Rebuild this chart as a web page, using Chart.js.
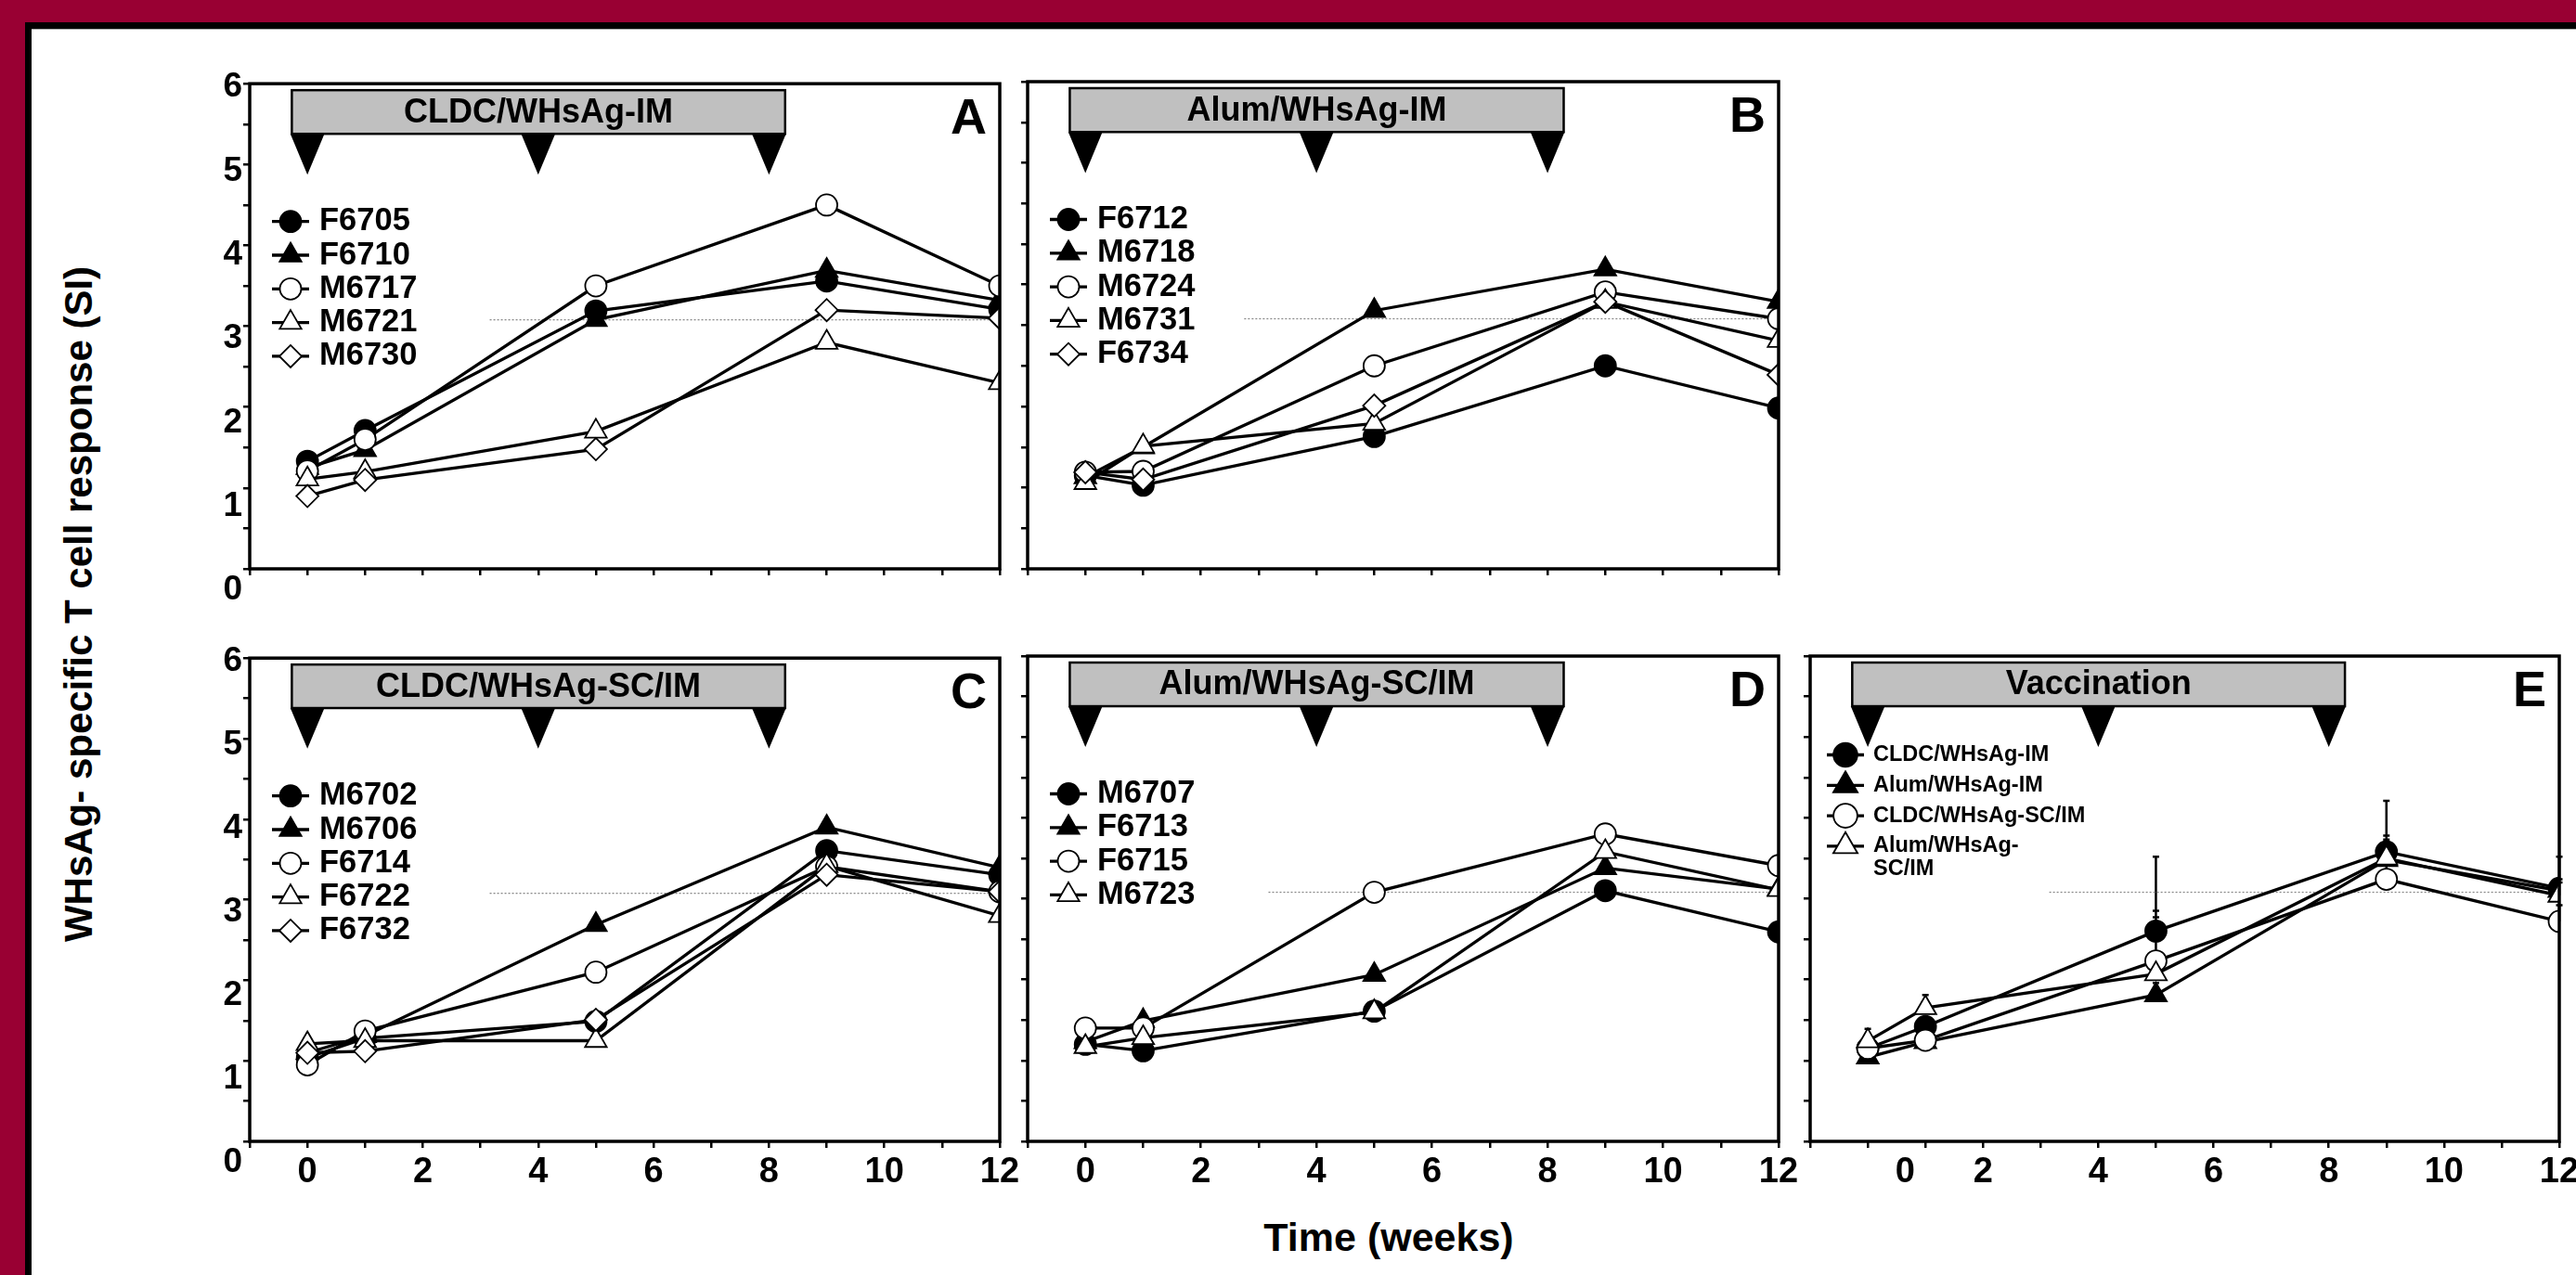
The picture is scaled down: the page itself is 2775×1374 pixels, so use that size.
<!DOCTYPE html>
<html>
<head>
<meta charset="utf-8">
<script src="https://cdn.jsdelivr.net/npm/chart.js@4.4.1/dist/chart.umd.min.js"></script>
<style>
	html, body { margin: 0; padding: 0; width: 2775px; height: 1374px; overflow: hidden; background: #990033; }
	#sheet { position: absolute; left: 27px; top: 24px; right: 0; bottom: 0; background: #fff; border-left: 7px solid #000; border-top: 7px solid #000; }
	#sheet::before { content: ''; position: absolute; left: 0; right: 0; top: 0; height: 1px; background: #a8a8a8; }
	canvas { position: absolute; }
	.axis-title { position: absolute; font-family: "Liberation Sans", Arial, sans-serif; font-weight: bold; color: #000; white-space: nowrap; }
	#ytitle { left: 85px; top: 651px; font-size: 42px; line-height: 42px; transform: translate(-50%, -50%) rotate(-90deg); }
	#xtitle { left: 1496px; top: 1333px; font-size: 43px; line-height: 43px; transform: translate(-50%, -50%); }
</style>
</head>
<body>
<div id="sheet"></div>
<div class="axis-title" id="ytitle">WHsAg- specific T cell response (SI)</div>
<div class="axis-title" id="xtitle">Time (weeks)</div>
<script>
// time points (weeks) and vaccination weeks
const weeks = [0, 1, 5, 9, 12]
const vaccinationWeeks = [0, 4, 8]
const yTickValues = [0, 1, 2, 3, 4, 5, 6]
const xTickValues = [0, 2, 4, 6, 8, 10, 12]
const xTickPositionsE = [0.65, 2, 4, 6, 8, 10, 12]
const cutoffSI = 3.08

// A: CLDC/WHsAg-IM
const animalsA = ['F6705', 'F6710', 'M6717', 'M6721', 'M6730']
const valuesA = [
	[1.33, 1.71, 3.19, 3.56, 3.21],
	[1.25, 1.47, 3.08, 3.69, 3.32],
	[1.21, 1.60, 3.50, 4.50, 3.50],
	[1.11, 1.20, 1.70, 2.80, 2.30],
	[0.90, 1.10, 1.48, 3.20, 3.10],
]

// B: Alum/WHsAg-IM
const animalsB = ['F6712', 'M6718', 'M6724', 'M6731', 'F6734']
const valuesB = [
	[1.15, 1.03, 1.63, 2.50, 1.98],
	[1.13, 1.50, 3.18, 3.69, 3.29],
	[1.19, 1.20, 2.50, 3.41, 3.08],
	[1.06, 1.51, 1.79, 3.29, 2.81],
	[1.19, 1.10, 2.01, 3.29, 2.39],
]

// C: CLDC/WHsAg-SC/IM
const animalsC = ['M6702', 'M6706', 'F6714', 'F6722', 'F6732']
const valuesC = [
	[1.04, 1.28, 1.49, 3.61, 3.31],
	[1.10, 1.31, 2.69, 3.90, 3.40],
	[0.95, 1.37, 2.10, 3.41, 3.10],
	[1.21, 1.25, 1.25, 3.42, 2.80],
	[1.10, 1.12, 1.51, 3.31, 3.10],
]

// D: Alum/WHsAg-SC/IM
const animalsD = ['M6707', 'F6713', 'F6715', 'M6723']
const valuesD = [
	[1.20, 1.12, 1.61, 3.10, 2.59],
	[1.23, 1.49, 2.06, 3.38, 3.12],
	[1.40, 1.40, 3.08, 3.80, 3.41],
	[1.17, 1.28, 1.60, 3.58, 3.11],
]

// E: group means with upper error
const groupsE = ['CLDC/WHsAg-IM', 'Alum/WHsAg-IM', 'CLDC/WHsAg-SC/IM', ['Alum/WHsAg-', 'SC/IM']]
const meansE = [
	[1.15, 1.42, 2.60, 3.58, 3.13],
	[1.04, 1.23, 1.81, 3.48, 3.10],
	[1.15, 1.25, 2.23, 3.24, 2.72],
	[1.24, 1.65, 2.07, 3.50, 3.04],
]
const errorsE = [
	[0.05, 0.08, 0.92, 0.63, 0.39],
	[0.05, 0.05, 0.15, 0.30, 0.10],
	[0.05, 0.08, 0.62, 0.54, 0.20],
	[0.15, 0.16, 0.70, 0.23, 0.20],
]

const FONT = '"Liberation Sans", Arial, sans-serif'
const MARKERS = {
	filledCircle: { shape: 'circle', fill: '#000', radius: 11.5 },
	filledTriangle: { shape: 'triangle', fill: '#000', radius: 13.5 },
	openCircle: { shape: 'circle', fill: '#fff', radius: 11.5 },
	openTriangle: { shape: 'triangle', fill: '#fff', radius: 13.5 },
	openDiamond: { shape: 'rectRot', fill: '#fff', radius: 12 },
}
const markerOrder = ['filledCircle', 'filledTriangle', 'openCircle', 'openTriangle', 'openDiamond']

// banner / arrows geometry in data units
const banner = { from: -0.27, to: 8.28, bottom: 5.38, top: 5.92, tip: 4.875, halfWidth: 0.295 }
const legendBig = { x0: 24, x1: 64, text: 75, y: 148.5, step: 36.3, font: 34.5, scale: 1 }
const legendSmall = { x0: 18, x1: 58, text: 68, y: 106.5, step: 32.8, font: 23.5, line2: 25, scale: 1.12 }

const panels = [
	{ letter: 'A', title: 'CLDC/WHsAg-IM', labels: animalsA, series: valuesA, markers: markerOrder,
		area: { l: 269, t: 88, r: 1077, b: 613 }, yLabels: true, xLabels: null, cutoffFrom: 3.16, legend: legendBig },
	{ letter: 'B', title: 'Alum/WHsAg-IM', labels: animalsB, series: valuesB, markers: markerOrder,
		area: { l: 1107, t: 88, r: 1916, b: 613 }, yLabels: false, xLabels: null, cutoffFrom: 2.75, legend: legendBig },
	{ letter: 'C', title: 'CLDC/WHsAg-SC/IM', labels: animalsC, series: valuesC, markers: markerOrder,
		area: { l: 269, t: 707, r: 1077, b: 1230 }, yLabels: true, xLabels: [xTickValues, xTickValues], cutoffFrom: 3.16, legend: legendBig },
	{ letter: 'D', title: 'Alum/WHsAg-SC/IM', labels: animalsD, series: valuesD, markers: markerOrder,
		area: { l: 1107, t: 707, r: 1916, b: 1230 }, yLabels: false, xLabels: [xTickValues, xTickValues], cutoffFrom: 3.17, legend: legendBig },
	{ letter: 'E', title: 'Vaccination', labels: groupsE, series: meansE, errors: errorsE, markers: markerOrder.slice(0, 4),
		area: { l: 1950, t: 707, r: 2757, b: 1230 }, yLabels: false, xLabels: [xTickPositionsE, xTickValues], cutoffFrom: 3.15, legend: legendSmall },
]

function drawMarker(ctx, marker, x, y, r) {
	ctx.beginPath()
	if (marker.shape === 'circle') {
		ctx.arc(x, y, r, 0, Math.PI * 2)
	} else if (marker.shape === 'triangle') {
		ctx.moveTo(x, y - r)
		ctx.lineTo(x + r * Math.sin(Math.PI * 2 / 3), y + r / 2)
		ctx.lineTo(x - r * Math.sin(Math.PI * 2 / 3), y + r / 2)
		ctx.closePath()
	} else {
		ctx.moveTo(x - r, y)
		ctx.lineTo(x, y - r)
		ctx.lineTo(x + r, y)
		ctx.lineTo(x, y + r)
		ctx.closePath()
	}
	ctx.fillStyle = marker.fill
	ctx.fill()
	ctx.lineWidth = 1.8
	ctx.strokeStyle = '#000'
	ctx.stroke()
}

class PanelChart {
	constructor(panel) {
		this.panel = panel
		const padL = 80, padT = 20, padR = 30, padB = 70
		const a = panel.area
		const w = a.r - a.l + padL + padR
		const h = a.b - a.t + padT + padB
		const canvas = document.createElement('canvas')
		canvas.width = w
		canvas.height = h
		canvas.style.left = (a.l - padL) + 'px'
		canvas.style.top = (a.t - padT) + 'px'
		canvas.style.width = w + 'px'
		canvas.style.height = h + 'px'
		document.body.appendChild(canvas)

		// label axis is slightly stretched compared with the data axis (as in the original)
		const plotH = a.b - a.t
		const labelUnit = plotH / 6 + 3.2
		const ylMax = 6 + 4 / labelUnit
		const ylMin = ylMax - plotH / labelUnit
		const xPos = panel.xLabels ? panel.xLabels[0] : xTickValues
		const xText = panel.xLabels ? panel.xLabels[1] : xTickValues

		new Chart(canvas.getContext('2d'), {
			type: 'line',
			data: { datasets: this.getDatasets() },
			options: {
				responsive: false,
				animation: false,
				devicePixelRatio: 1,
				events: [],
				layout: { autoPadding: false, padding: { left: 0, top: padT, right: padR, bottom: 0 } },
				plugins: { legend: { display: false }, tooltip: { enabled: false } },
				scales: {
					x: {
						type: 'linear', position: 'bottom', min: -1, max: 12,
						ticks: { display: false, stepSize: 1 },
						grid: { drawOnChartArea: false, tickLength: 7, color: '#000', lineWidth: 2.5 },
						border: { display: false },
						afterFit: (s) => { s.height = 8 },
					},
					xl: {
						type: 'linear', position: 'bottom', weight: 1, min: -1, max: 12,
						afterBuildTicks: (s) => { s.ticks = xPos.map((v) => ({ value: v })) },
						ticks: {
							display: !!panel.xLabels, autoSkip: false, maxRotation: 0, padding: 3, color: '#000',
							font: { family: FONT, size: 38, weight: 'bold' },
							callback: (v, i) => String(xText[i]),
						},
						grid: { display: false, drawTicks: false },
						border: { display: false },
						afterFit: (s) => { s.height = padB - 8 },
					},
					y: {
						type: 'linear', position: 'left', min: 0, max: 6,
						ticks: { display: false, stepSize: 0.5 },
						grid: { drawOnChartArea: false, tickLength: 7, color: '#000', lineWidth: 2.5 },
						border: { display: false },
						afterFit: (s) => { s.width = 8 },
					},
					yl: {
						type: 'linear', position: 'left', weight: 1, min: ylMin, max: ylMax,
						afterBuildTicks: (s) => { s.ticks = yTickValues.map((v) => ({ value: v })) },
						ticks: {
							display: panel.yLabels, autoSkip: false, padding: 0, color: '#000',
							font: { family: FONT, size: 37, weight: 'bold' },
							callback: (v) => String(v),
						},
						grid: { display: false, drawTicks: false },
						border: { display: false },
						afterFit: (s) => { s.width = padL - 8 },
					},
				},
			},
			plugins: [this.getDecorations()],
		})
	}

	getDatasets() {
		const p = this.panel
		const datasets = [{
			data: [{ x: p.cutoffFrom, y: cutoffSI }, { x: 12, y: cutoffSI }],
			borderColor: '#8a8a8a', borderWidth: 1.3, borderDash: [2, 2],
			pointRadius: 0, order: 100, clip: 0,
		}]
		p.series.forEach((values, i) => {
			const m = MARKERS[p.markers[i]]
			datasets.push({
				data: weeks.map((wk, j) => ({ x: wk, y: values[j] })),
				borderColor: '#000',
				borderWidth: 3.3,
				tension: 0,
				pointStyle: m.shape,
				pointRadius: m.radius,
				pointBackgroundColor: m.fill,
				pointBorderColor: '#000',
				pointBorderWidth: 1.8,
				order: p.series.length - i,
				clip: 0,
			})
		})
		return datasets
	}

	getDecorations() {
		const p = this.panel
		return {
			id: 'decorations',
			beforeDatasetsDraw(chart) {
				if (!p.errors) return
				const ctx = chart.ctx, xs = chart.scales.x, ys = chart.scales.y
				ctx.save()
				ctx.strokeStyle = '#000'
				ctx.lineWidth = 2.5
				ctx.beginPath()
				p.errors.forEach((errs, i) => {
					errs.forEach((e, j) => {
						const x = xs.getPixelForValue(weeks[j])
						const y0 = ys.getPixelForValue(p.series[i][j])
						const y1 = ys.getPixelForValue(p.series[i][j] + e)
						ctx.moveTo(x, y0)
						ctx.lineTo(x, y1)
						ctx.moveTo(x - 3.5, y1)
						ctx.lineTo(x + 3.5, y1)
					})
				})
				ctx.stroke()
				ctx.restore()
			},
			afterDatasetsDraw(chart) {
				const ctx = chart.ctx, xs = chart.scales.x, ys = chart.scales.y, area = chart.chartArea
				ctx.save()
				// frame
				ctx.strokeStyle = '#000'
				ctx.lineWidth = 3.5
				ctx.strokeRect(area.left, area.top, area.right - area.left, area.bottom - area.top)

				// banner box with title
				const bx0 = xs.getPixelForValue(banner.from), bx1 = xs.getPixelForValue(banner.to)
				const by0 = ys.getPixelForValue(banner.top), by1 = ys.getPixelForValue(banner.bottom)
				ctx.fillStyle = '#c0c0c0'
				ctx.fillRect(bx0, by0, bx1 - bx0, by1 - by0)
				ctx.lineWidth = 2.5
				ctx.strokeRect(bx0, by0, bx1 - bx0, by1 - by0)
				ctx.fillStyle = '#000'
				ctx.font = 'bold 36px ' + FONT
				ctx.textAlign = 'center'
				ctx.textBaseline = 'middle'
				ctx.fillText(p.title, (bx0 + bx1) / 2, (by0 + by1) / 2 + 1)

				// vaccination arrows
				vaccinationWeeks.forEach((wk) => {
					ctx.beginPath()
					ctx.moveTo(xs.getPixelForValue(wk - banner.halfWidth), by1)
					ctx.lineTo(xs.getPixelForValue(wk + banner.halfWidth), by1)
					ctx.lineTo(xs.getPixelForValue(wk), ys.getPixelForValue(banner.tip))
					ctx.closePath()
					ctx.fill()
				})

				// panel letter
				ctx.font = 'bold 54px ' + FONT
				ctx.textAlign = 'right'
				ctx.textBaseline = 'alphabetic'
				ctx.fillText(p.letter, area.right - 14, area.top + 53.5)

				// legend
				const L = p.legend
				ctx.font = 'bold ' + L.font + 'px ' + FONT
				ctx.textAlign = 'left'
				ctx.textBaseline = 'middle'
				p.labels.forEach((label, i) => {
					const y = area.top + L.y + i * L.step
					ctx.strokeStyle = '#000'
					ctx.lineWidth = 3.3
					ctx.beginPath()
					ctx.moveTo(area.left + L.x0, y)
					ctx.lineTo(area.left + L.x1, y)
					ctx.stroke()
					const m = MARKERS[p.markers[i]]
					drawMarker(ctx, m, area.left + (L.x0 + L.x1) / 2, y, m.radius * L.scale)
					ctx.fillStyle = '#000'
					const lines = Array.isArray(label) ? label : [label]
					lines.forEach((line, k) => ctx.fillText(line, area.left + L.text, y + k * (L.line2 || 0)))
				})
				ctx.restore()
			},
		}
	}
}

panels.forEach((panel) => new PanelChart(panel))
</script>
</body>
</html>
